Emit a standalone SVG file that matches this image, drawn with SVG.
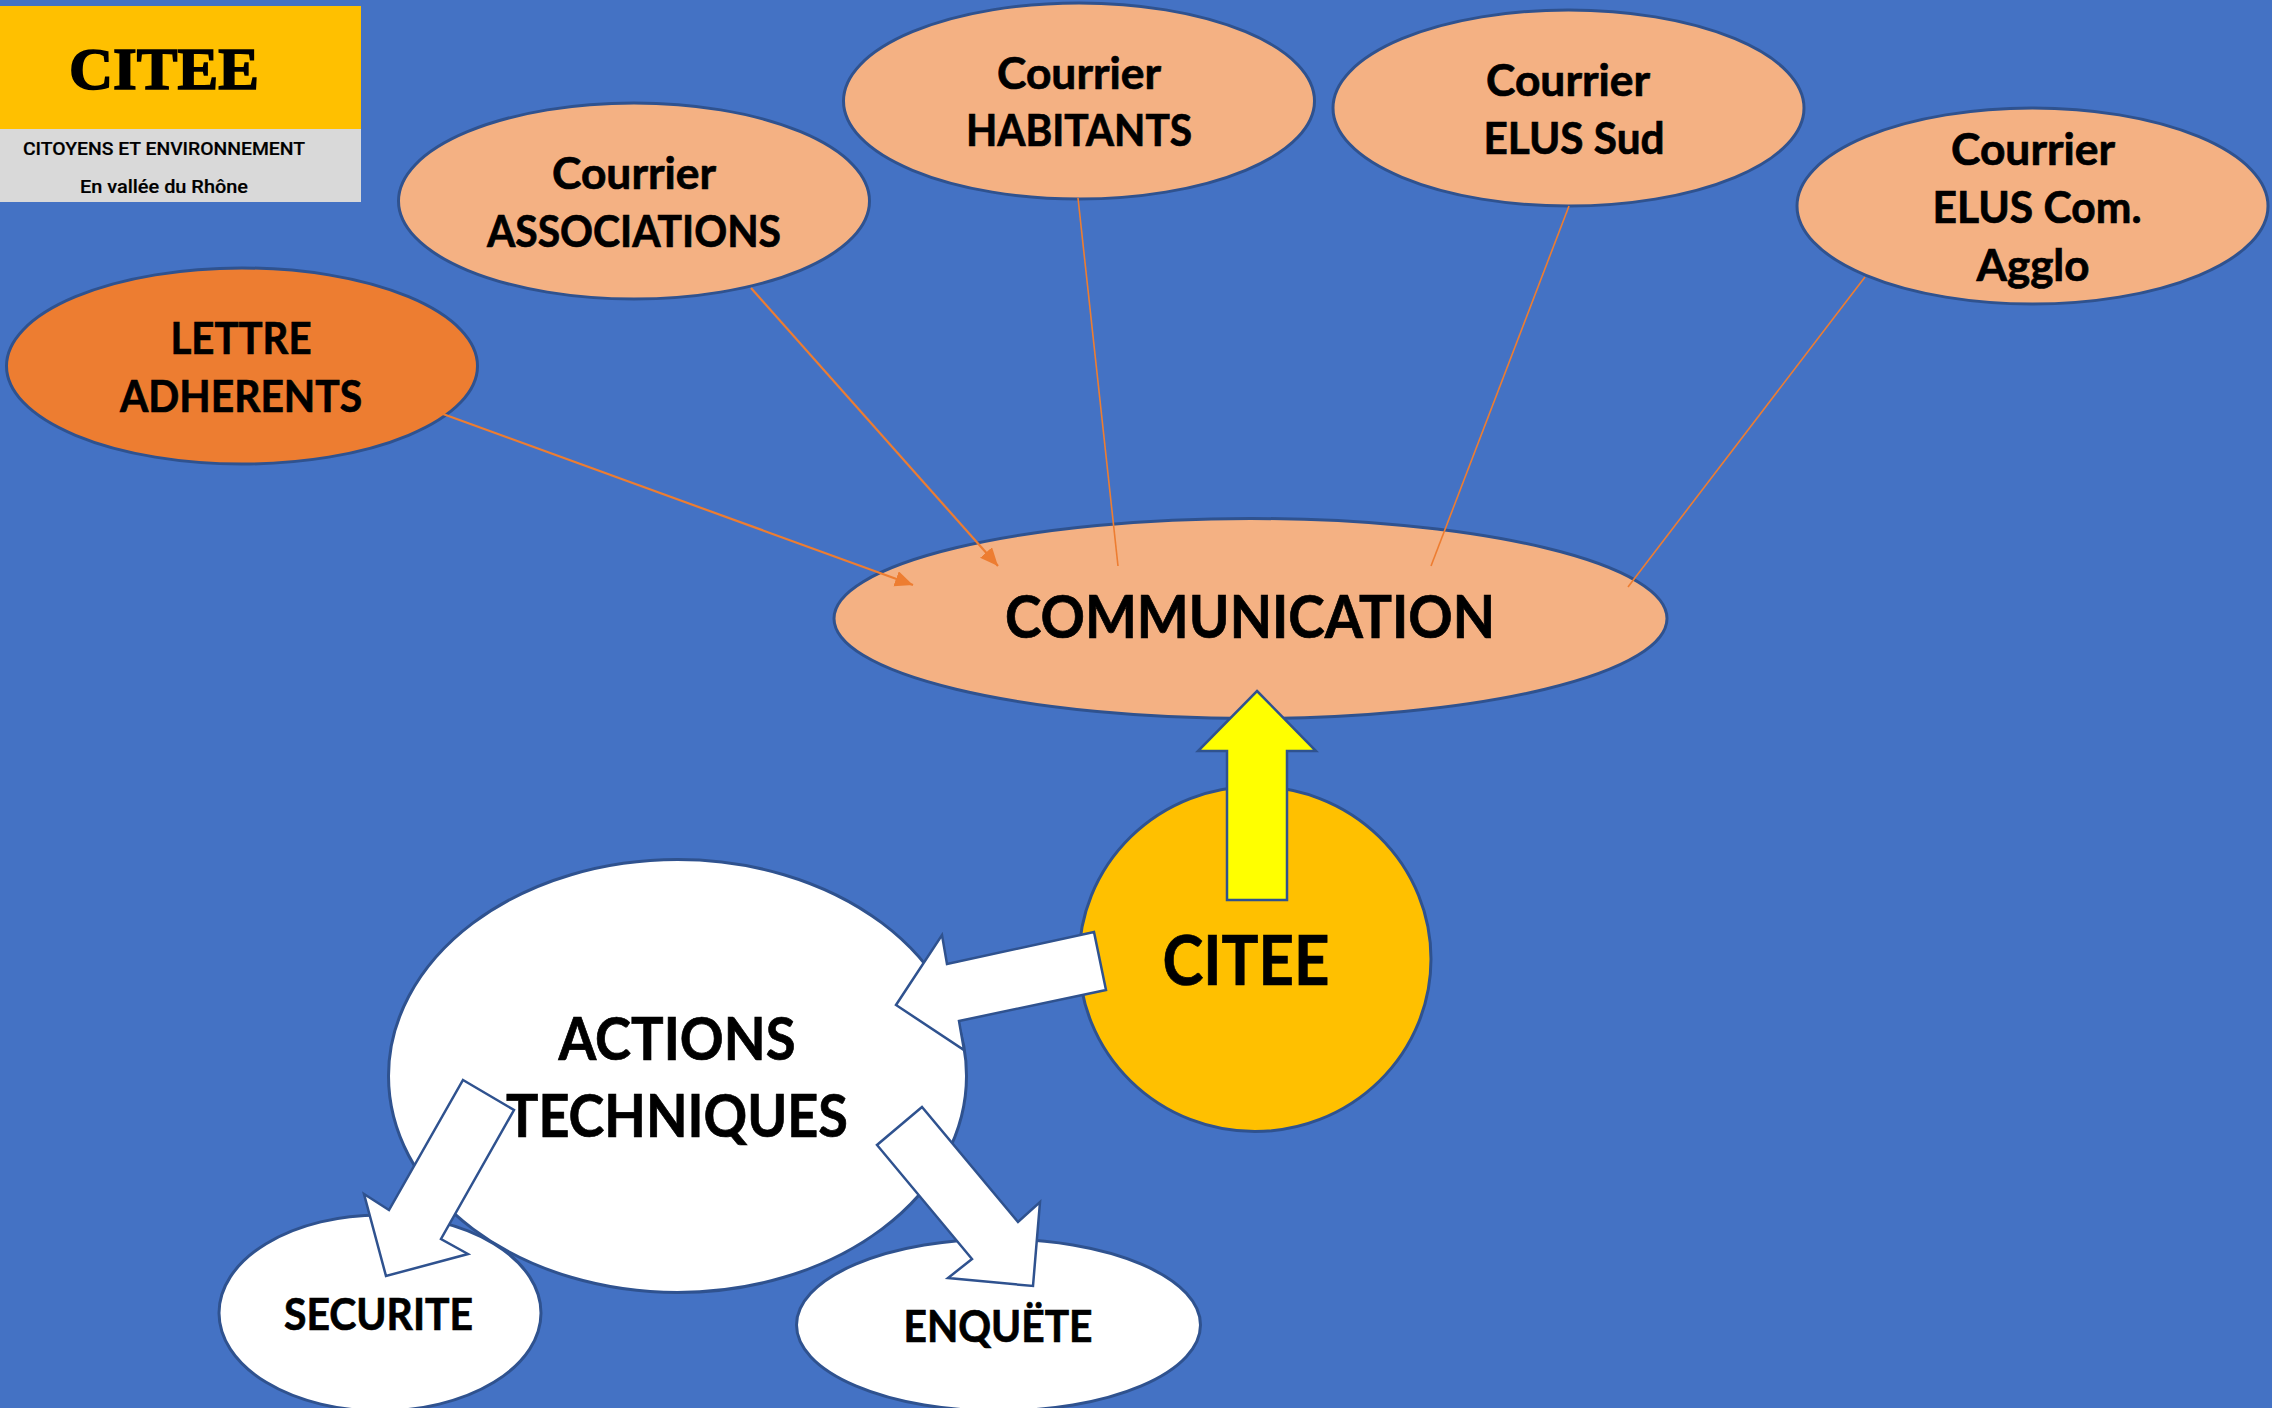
<svg xmlns="http://www.w3.org/2000/svg" width="2272" height="1408" viewBox="0 0 2272 1408">
<style>
.n{stroke:#2F528F;stroke-width:3}
.peach{fill:#F4B183}
.white{fill:#FFFFFF}
.arrow{fill:#FFFFFF;stroke:#2F528F;stroke-width:2.5;stroke-linejoin:miter}
.line{stroke:#ED7D31;fill:none;stroke-width:2.2}
text{font-family:Lato,"Liberation Sans",sans-serif;font-weight:700;fill:#000;text-anchor:middle;stroke:#000;stroke-width:0.7}
.t42{font-size:44px}
.t57{font-size:59px}
</style>
<defs>
<marker id="head" markerUnits="userSpaceOnUse" markerWidth="20" markerHeight="18" refX="18" refY="8" orient="auto">
<path d="M0,0 L18,8 L0,16 Z" fill="#ED7D31"/>
</marker>
</defs>
<rect width="2272" height="1408" fill="#4472C4"/>
<g id="logo">
<rect x="0" y="6" width="361" height="123" fill="#FFC000"/>
<rect x="0" y="129" width="361" height="73" fill="#D9D9D9"/>
<text x="164" y="89" font-size="60" textLength="190" lengthAdjust="spacingAndGlyphs" style="font-family:'Liberation Serif',serif;font-weight:700;stroke-width:1.6">CITEE</text>
<text x="164" y="155" font-size="19" textLength="282" lengthAdjust="spacingAndGlyphs" style="font-family:Roboto,sans-serif;font-weight:500;stroke-width:0.2">CITOYENS ET ENVIRONNEMENT</text>
<text x="164" y="193" font-size="19" textLength="168" lengthAdjust="spacingAndGlyphs" style="font-family:Roboto,sans-serif;font-weight:500;stroke-width:0.2">En vallée du Rhône</text>
</g>
<g id="node-communication">
<ellipse class="n peach" cx="1250.5" cy="618.5" rx="416.5" ry="100"/>
<text class="t57" x="1250" y="637.5" textLength="490" lengthAdjust="spacingAndGlyphs">COMMUNICATION</text>
</g>
<g id="node-lettre">
<ellipse class="n" fill="#ED7D31" cx="242" cy="366" rx="235.5" ry="98"/>
<text class="t42" x="241" y="354" textLength="141" lengthAdjust="spacingAndGlyphs">LETTRE</text>
<text class="t42" x="241" y="412" textLength="242" lengthAdjust="spacingAndGlyphs">ADHERENTS</text>
</g>
<g id="node-associations">
<ellipse class="n peach" cx="634" cy="201" rx="235.5" ry="98"/>
<text class="t42" x="634" y="188.5" textLength="164" lengthAdjust="spacingAndGlyphs">Courrier</text>
<text class="t42" x="634" y="247" textLength="294" lengthAdjust="spacingAndGlyphs">ASSOCIATIONS</text>
</g>
<g id="node-habitants">
<ellipse class="n peach" cx="1079" cy="101" rx="235.5" ry="98"/>
<text class="t42" x="1079" y="88.5" textLength="164" lengthAdjust="spacingAndGlyphs">Courrier</text>
<text class="t42" x="1079" y="145.5" textLength="226" lengthAdjust="spacingAndGlyphs">HABITANTS</text>
</g>
<g id="node-elus-sud">
<ellipse class="n peach" cx="1568.5" cy="108" rx="235.5" ry="98"/>
<text class="t42" x="1568" y="96" textLength="164" lengthAdjust="spacingAndGlyphs">Courrier</text>
<text class="t42" x="1574" y="153.5" textLength="181" lengthAdjust="spacingAndGlyphs">ELUS Sud</text>
</g>
<g id="node-elus-com">
<ellipse class="n peach" cx="2032.5" cy="206" rx="235.5" ry="98"/>
<text class="t42" x="2033" y="165" textLength="164" lengthAdjust="spacingAndGlyphs">Courrier</text>
<text class="t42" x="2037" y="223" textLength="209" lengthAdjust="spacingAndGlyphs">ELUS Com.</text>
<text class="t42" x="2033" y="281" textLength="113" lengthAdjust="spacingAndGlyphs">Agglo</text>
</g>
<g id="node-citee">
<ellipse class="n" fill="#FFC000" cx="1255" cy="959" rx="176" ry="172.5"/>
<text x="1246" y="985" font-size="68" textLength="167" lengthAdjust="spacingAndGlyphs">CITEE</text>
</g>
<g id="node-actions">
<ellipse class="n white" cx="677.5" cy="1076" rx="289" ry="216.5"/>
</g>
<g id="node-securite">
<ellipse class="n white" cx="380" cy="1313" rx="161" ry="98"/>
<text class="t42" x="378.5" y="1330" textLength="189" lengthAdjust="spacingAndGlyphs">SECURITE</text>
</g>
<g id="node-enquete">
<ellipse class="n white" cx="998.5" cy="1325" rx="202" ry="86"/>
<text class="t42" x="998" y="1342" textLength="189" lengthAdjust="spacingAndGlyphs">ENQUËTE</text>
</g>
<g id="connectors">
<line class="line" x1="443" y1="414" x2="913" y2="585" marker-end="url(#head)"/>
<line class="line" x1="751" y1="288" x2="998" y2="566" marker-end="url(#head)"/>
<line class="line" x1="1078" y1="198" x2="1118" y2="566" style="stroke-width:1.6"/>
<line class="line" x1="1569" y1="206" x2="1431" y2="566" style="stroke-width:1.6"/>
<line class="line" x1="1865" y1="277" x2="1628" y2="587" style="stroke-width:1.6"/>
<polygon fill="#FFFF00" stroke="#2F528F" stroke-width="2.5" points="1257,691 1316,751 1287,751 1287,900 1227,900 1227,751 1198,751"/>
<polygon class="arrow" points="1094,932 1106,990 959,1021 964,1050 896,1005 942,935 947,964"/>
<polygon class="arrow" points="463,1080 514,1110 441,1239 468,1254 386,1276 364,1194 389,1210"/>
<polygon class="arrow" points="922,1107 877,1145 972,1259 948,1278 1033,1286 1040,1202 1018,1222"/>
</g>
<g id="node-actions-label">
<text class="t57" x="677" y="1060" textLength="237" lengthAdjust="spacingAndGlyphs">ACTIONS</text>
<text class="t57" x="677" y="1137" textLength="342" lengthAdjust="spacingAndGlyphs">TECHNIQUES</text>
</g>
</svg>
